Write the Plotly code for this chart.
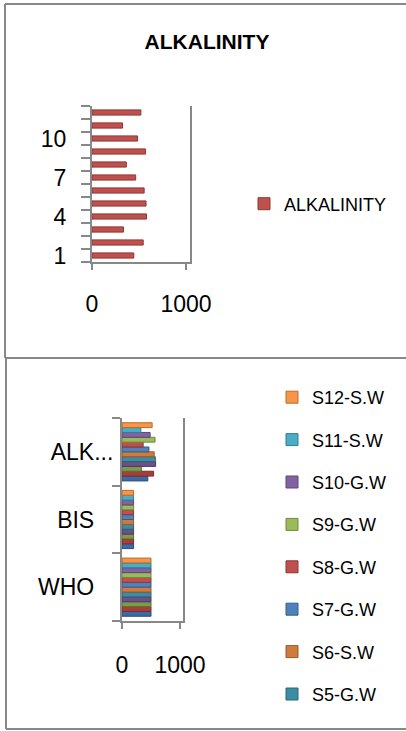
import plotly.graph_objects as go

W, H = 406, 731

# Sample numbers (1..12) and their alkalinity readings
sample_no = list(range(1, 13))
alkalinity = [445, 545, 335, 580, 575, 555, 465, 365, 570, 485, 325, 520]

# Second chart: standards vs. samples
categories = ["WHO", "BIS", "ALKALINITY"]
category_labels = ["WHO   ", "BIS   ", "ALK..."]
who_limit = 500
bis_limit = 200
series_names = ["S1-G.W", "S2-G.W", "S3-G.W", "S4-G.W", "S5-G.W", "S6-S.W",
                "S7-G.W", "S8-G.W", "S9-G.W", "S10-G.W", "S11-S.W", "S12-S.W"]
series_colors = ["#3D69A6", "#A63F3C", "#7E9C47", "#6A5189", "#3C8DA3", "#D07B3E",
                 "#4F81BD", "#C0504D", "#9BBB59", "#8064A2", "#4BACC6", "#F79646"]
series_outline = ["#2B4C7A", "#7A2D2B", "#5B7233", "#4C3A63", "#2A6677", "#9A5A2D",
                  "#385D8A", "#8C3836", "#71893F", "#5C4776", "#357D91", "#B66D31"]

AXIS = "#888888"
FONT = "Liberation Sans, Arial, sans-serif"


def px_x(p):
    return p / W


def px_y(p):
    return 1 - p / H


fig = go.Figure()

# Top chart: one horizontal bar per sample
fig.add_trace(go.Bar(
    x=alkalinity, y=sample_no, orientation="h", name="ALKALINITY",
    width=0.4,
    marker=dict(color="#C0504D", line=dict(color="#8C3836", width=1)),
    xaxis="x", yaxis="y", legend="legend",
))

# Bottom chart: each sample against WHO / BIS limits
for i, (name, col, oc) in enumerate(zip(series_names, series_colors, series_outline)):
    vals = [who_limit, bis_limit, alkalinity[i]]
    fig.add_trace(go.Bar(
        x=vals, y=categories, orientation="h", name=name,
        marker=dict(color=col, line=dict(color=oc, width=1)),
        xaxis="x2", yaxis="y2", legend="legend2", legendgroup=name,
        legendrank=100 - i, showlegend=i >= 4,
    ))

tickfont = dict(family=FONT, size=23, color="#000000")

fig.update_layout(
    width=W, height=H, autosize=False,
    margin=dict(l=0, r=0, t=0, b=0, autoexpand=False),
    paper_bgcolor="white", plot_bgcolor="rgba(0,0,0,0)",
    barmode="group",
    bargap=0.14, bargroupgap=0,
    showlegend=True,
    font=dict(family=FONT, color="#000000"),
    title=dict(text="<b>ALKALINITY</b>", x=px_x(207), y=px_y(42),
               xanchor="center", yanchor="middle",
               font=dict(family=FONT, size=21, color="#000000")),
    xaxis=dict(domain=[px_x(92), px_x(190)], range=[0, 1043],
               anchor="y", tickvals=[0, 1000], ticktext=["0", "1000"],
               showline=True, linecolor=AXIS, linewidth=2,
               ticks="outside", ticklen=6, tickcolor=AXIS, tickwidth=2,
               ticklabelstandoff=14,
               showgrid=False, zeroline=False, tickfont=tickfont),
    yaxis=dict(domain=[px_y(262), px_y(106)], range=[0.5, 12.5],
               anchor="x", tickvals=[1, 4, 7, 10],
               showline=True, linecolor=AXIS, linewidth=2, mirror=True,
               ticks="", ticklabelstandoff=19,
               minor=dict(tickvals=[k + 0.5 for k in range(13)], ticks="outside",
                          ticklen=9, tickcolor=AXIS, tickwidth=2),
               showgrid=False, zeroline=False, tickfont=tickfont),
    xaxis2=dict(domain=[px_x(122), px_x(183)], range=[0, 1052],
                anchor="y2", tickvals=[0, 1000], ticktext=["0", "1000"],
                showline=True, linecolor=AXIS, linewidth=2,
                ticks="outside", ticklen=6, tickcolor=AXIS, tickwidth=2,
                ticklabelstandoff=16,
                showgrid=False, zeroline=False, tickfont=tickfont),
    yaxis2=dict(domain=[px_y(621), px_y(418)], range=[-0.5, 2.5],
                anchor="x2", type="category", categoryorder="array",
                categoryarray=categories,
                tickvals=categories, ticktext=category_labels,
                showline=True, linecolor=AXIS, linewidth=2, mirror=True,
                ticks="outside", tickson="boundaries", ticklen=8,
                tickcolor=AXIS, tickwidth=2, ticklabelstandoff=2,
                showgrid=False, zeroline=False, tickfont=tickfont),
    legend=dict(x=px_x(244), y=px_y(204), xanchor="left", yanchor="middle",
                font=dict(family=FONT, size=18, color="#000000"),
                bgcolor="rgba(0,0,0,0)"),
    legend2=dict(x=px_x(272), y=px_y(379), xanchor="left", yanchor="top",
                 traceorder="grouped", tracegroupgap=16,
                 font=dict(family=FONT, size=18, color="#000000"),
                 bgcolor="rgba(0,0,0,0)"),
)

# Chart-area borders
border = dict(color=AXIS, width=2)
fig.add_shape(type="line", xref="paper", yref="paper", x0=px_x(5), x1=1.0,
              y0=px_y(4), y1=px_y(4), line=border)
fig.add_shape(type="line", xref="paper", yref="paper", x0=px_x(5), x1=1.0,
              y0=px_y(358), y1=px_y(358), line=border)
fig.add_shape(type="line", xref="paper", yref="paper", x0=px_x(6), x1=1.0,
              y0=px_y(729), y1=px_y(729), line=border)
fig.add_shape(type="line", xref="paper", yref="paper", x0=px_x(5), x1=px_x(5),
              y0=px_y(4), y1=px_y(358), line=border)
fig.add_shape(type="line", xref="paper", yref="paper", x0=px_x(6), x1=px_x(6),
              y0=px_y(358), y1=px_y(729), line=border)

fig.write_html("out.html", config={"responsive": False})
